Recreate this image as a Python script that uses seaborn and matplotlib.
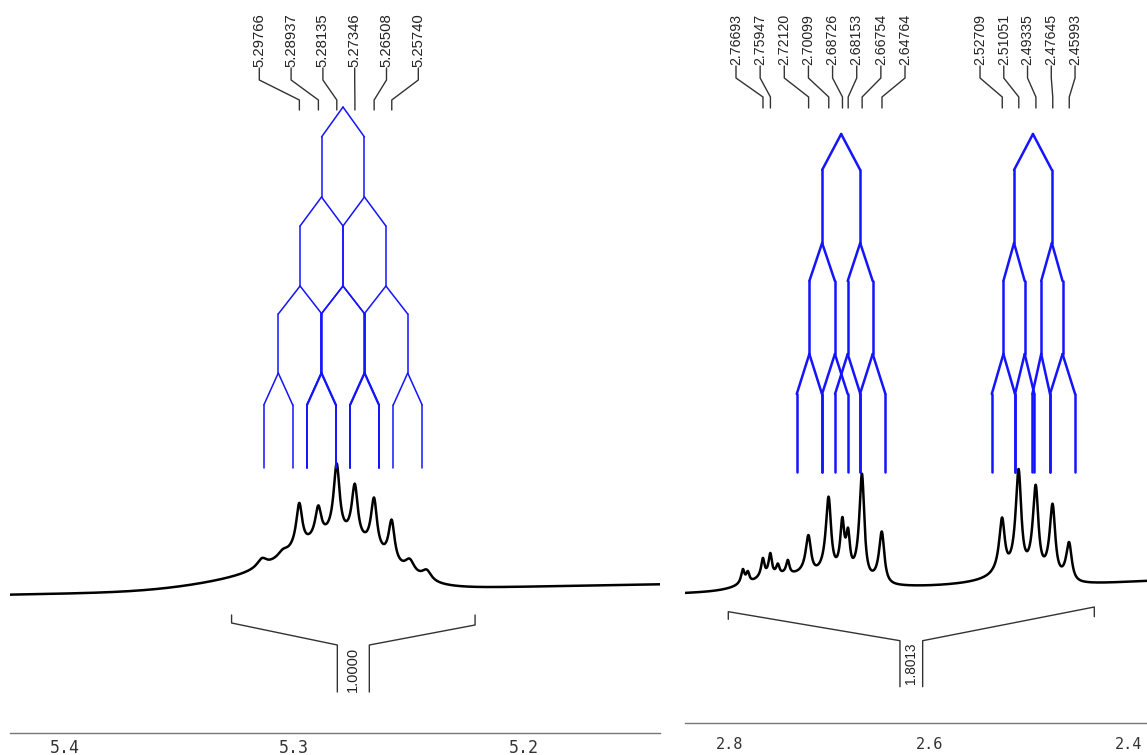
import numpy as np
import pandas as pd
import matplotlib
matplotlib.use("Agg")
import matplotlib.pyplot as plt
import seaborn as sns

# ============================================================
# Data
# ============================================================

# left panel : H-5 multiplet
left_labels = [5.29766, 5.28937, 5.28135, 5.27346, 5.26508, 5.25740]
left_peak_ppm = [5.3139, 5.3048, 5.29766, 5.28937, 5.28135, 5.27346,
                 5.26508, 5.25740, 5.2495, 5.2421]
left_peak_height = [8.5, 5.5, 44, 31, 71, 54, 51, 41, 13, 10]
left_peak_width = [0.0025, 0.0025, 0.0016, 0.0016, 0.0016, 0.0016,
                   0.0016, 0.0016, 0.0025, 0.0025]
left_hump_ppm = [5.279, 5.305]
left_hump_height = [39, 15]
left_hump_sigma = [0.019, 0.030]
left_baseline = [160, 171]
left_phase = 0.08
left_integral = "1.0000"
left_integral_range = [5.3272, 5.2211]
left_tree_center = 5.27865
left_tree_J = [0.0187, 0.0187, 0.0190, 0.0126]
left_ticks = [5.4, 5.3, 5.2]

# right panel : H-2 / H-6 multiplets
right_labels_a = [2.76693, 2.75947, 2.72120, 2.70099, 2.68726, 2.68153, 2.66754, 2.64764]
right_labels_b = [2.52709, 2.51051, 2.49335, 2.47645, 2.45993]
right_peak_ppm = [2.7870, 2.7820, 2.76693, 2.75947, 2.7519, 2.7419,
                  2.72120, 2.70099, 2.68726, 2.68153, 2.66754, 2.64764,
                  2.52709, 2.51051, 2.49335, 2.47645, 2.45993]
right_peak_height = [13.6, 10.3, 18, 21.7, 10, 13.5,
                     38, 76, 48, 38, 104, 51,
                     54, 102, 87, 72, 38]
right_peak_width = [0.002, 0.002, 0.002, 0.002, 0.002, 0.002,
                    0.0032, 0.0032, 0.0024, 0.0024, 0.0030, 0.0032,
                    0.0034, 0.0034, 0.0034, 0.0034, 0.0034]
right_hump_ppm = [2.7549, 2.6893, 2.494]
right_hump_height = [10, 9, 5]
right_hump_sigma = [0.025, 0.040, 0.030]
right_baseline = [160, 176]
right_phase = 0.15
right_integral = "1.8013"
right_integral_range = [2.8017, 2.4348]
right_tree_a_leaves = [2.7331, 2.7078, 2.7077, 2.6820, 2.6947, 2.6693, 2.6697, 2.6442]
right_tree_b_leaves = [2.5376, 2.5143, 2.5143, 2.4949, 2.4969, 2.4792, 2.4792, 2.4541]
right_ticks = [2.8, 2.6, 2.4]
right_minor_ticks = [2.7, 2.5]


# ============================================================
# Helpers
# ============================================================

def spectrum(ppm, peaks, heights, widths, humps, hump_h, hump_s, base, phase, xlim):
    y = np.interp(ppm, [xlim[1], xlim[0]], [base[1], base[0]])
    for p, h, w in zip(peaks, heights, widths):
        d = ppm - p
        y = y + h * (w * w + phase * w * d) / (d * d + w * w)
    for p, h, s in zip(humps, hump_h, hump_s):
        y = y + h * np.exp(-(ppm - p) ** 2 / (2 * s * s))
    return y


def levels_from_J(center, Js):
    levels = [np.array([center])]
    for J in Js:
        prev = levels[-1]
        levels.append(np.column_stack([prev + J / 2, prev - J / 2]).ravel())
    return levels


def levels_from_leaves(leaves):
    levels = [np.asarray(leaves, dtype=float)]
    while len(levels[0]) > 1:
        levels.insert(0, levels[0].reshape(-1, 2).mean(axis=1))
    return levels


def draw_tree(ax, levels, y_node, y_split, y_bottom, lw):
    for k in range(len(levels) - 1):
        y_end = y_node[k + 1] if k + 1 < len(y_node) else y_bottom
        for i, x0 in enumerate(levels[k]):
            for x1 in levels[k + 1][2 * i:2 * i + 2]:
                ax.plot([x0, x1], [y_node[k], y_split[k]], color="#1414ff", lw=lw)
                ax.plot([x1, x1], [y_split[k], y_end], color="#1414ff", lw=lw)


def draw_labels(ax, values, x_first, x_last, ys, size):
    xs = np.linspace(x_first, x_last, len(values))
    for v, xt in zip(values, xs):
        ax.plot([xt, xt, v, v], ys, color="#333333", lw=1.0)
        ax.text(xt, ys[0] + 1, f"{v:.5f}", rotation=90, ha="center", va="bottom",
                fontsize=size, color="#222222")


def draw_integral(ax, value, rng, gap, y_ends, y_mid, y_low, size):
    c = (rng[0] + rng[1]) / 2
    ax.plot([rng[0], rng[0], c + gap, c + gap], [y_ends[0], y_ends[1], y_mid, y_low],
            color="#333333", lw=1.0)
    ax.plot([rng[1], rng[1], c - gap, c - gap], [y_ends[2], y_ends[3], y_mid, y_low],
            color="#333333", lw=1.0)
    ax.text(c, y_mid - 2, value, rotation=90, ha="center", va="top",
            fontsize=size, color="#222222")


def style_axis(ax, xlim, ticks, spine_y, size, length, pad):
    ax.set_xlim(*xlim)
    ax.set_ylim(0, 755)
    for s in ["left", "right", "top"]:
        ax.spines[s].set_visible(False)
    ax.spines["bottom"].set_position(("data", spine_y))
    ax.spines["bottom"].set_color("#777777")
    ax.spines["bottom"].set_linewidth(1.0)
    ax.set_yticks([])
    ax.set_xticks(ticks)
    ax.set_xticklabels([f"{t:.1f}" for t in ticks], family="DejaVu Sans Mono",
                       fontsize=size, color="#333333")
    ax.tick_params(axis="x", direction="out", length=length, width=1.0,
                   color="#333333", pad=pad)
    ax.set_xlabel("")
    ax.set_ylabel("")


# ============================================================
# Figure
# ============================================================

sns.set_style("white")
plt.rcParams["font.family"] = ["Liberation Sans", "DejaVu Sans"]

W, H = 1147, 755
fig = plt.figure(figsize=(W / 100, H / 100), dpi=100)

left_xlim = (5.42375, 5.14052)
right_xlim = (2.8451, 2.3820)

ax1 = fig.add_axes([10 / W, 0, 650 / W, 1])
ax2 = fig.add_axes([685 / W, 0, 462 / W, 1])

# ---- left spectrum
x1 = np.linspace(left_xlim[0], left_xlim[1], 4000)
y1 = spectrum(x1, left_peak_ppm, left_peak_height, left_peak_width,
              left_hump_ppm, left_hump_height, left_hump_sigma,
              left_baseline, left_phase, left_xlim)
df1 = pd.DataFrame({"ppm": x1, "intensity": y1})
sns.lineplot(data=df1, x="ppm", y="intensity", ax=ax1, color="black",
             linewidth=1.8, sort=False, estimator=None)

draw_tree(ax1, levels_from_J(left_tree_center, left_tree_J),
          [648, 558, 469, 382], [618, 529, 441, 350], 287, 1.1)
draw_labels(ax1, left_labels, 5.31512, 5.24584, [687, 675, 655, 645], 10.7)
draw_integral(ax1, left_integral, left_integral_range, 0.00697,
              [140, 132, 140, 130], 110, 63, 10.5)
style_axis(ax1, left_xlim, left_ticks, 22, 12, 4, 0.5)

# ---- right spectrum
x2 = np.linspace(right_xlim[0], right_xlim[1], 4000)
y2 = spectrum(x2, right_peak_ppm, right_peak_height, right_peak_width,
              right_hump_ppm, right_hump_height, right_hump_sigma,
              right_baseline, right_phase, right_xlim)
df2 = pd.DataFrame({"ppm": x2, "intensity": y2})
sns.lineplot(data=df2, x="ppm", y="intensity", ax=ax2, color="black",
             linewidth=1.8, sort=False, estimator=None)

draw_tree(ax2, levels_from_leaves(right_tree_a_leaves),
          [621, 512, 401], [585, 474, 361], 283, 1.8)
draw_tree(ax2, levels_from_leaves(right_tree_b_leaves),
          [621, 512, 401], [585, 474, 361], 283, 1.8)
draw_labels(ax2, right_labels_a, 2.79398, 2.62456, [689, 677, 658, 647], 10.2)
draw_labels(ax2, right_labels_b, 2.54937, 2.45414, [689, 677, 658, 647], 10.2)
draw_integral(ax2, right_integral, right_integral_range, 0.01138,
              [135.7, 143.3, 138.3, 148], 114.3, 68.3, 9.8)
style_axis(ax2, right_xlim, right_ticks, 32, 11, 6, 4)
ax2.set_xticks(right_minor_ticks, minor=True)
ax2.tick_params(axis="x", which="minor", direction="out", length=3, width=1.0,
                color="#333333")

fig.savefig("out.png", dpi=100)
